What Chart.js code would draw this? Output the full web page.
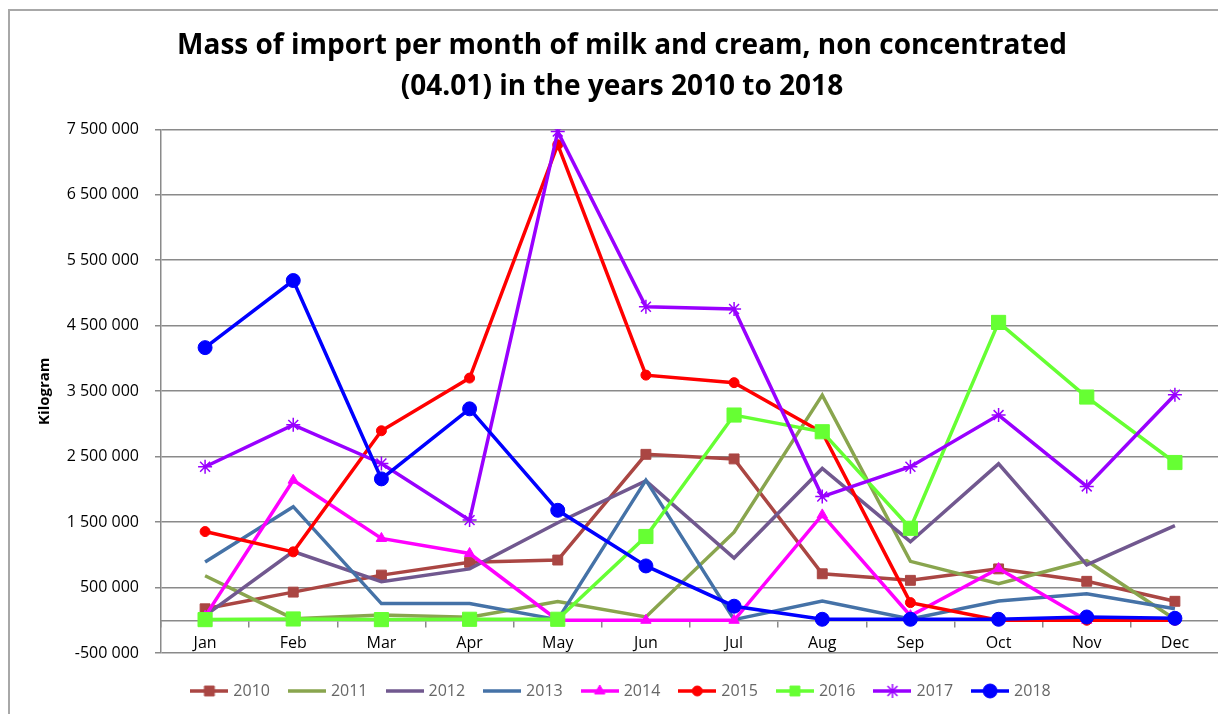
<!DOCTYPE html>
<html>
<head>
<meta charset="utf-8">
<script src="https://cdn.jsdelivr.net/npm/chart.js@4"></script>
<style>
	html, body { margin: 0; padding: 0; background: #fff; overflow: hidden; }
	#frame { position: absolute; left: 8px; top: 9px; border-left: 2px solid #a8a8a8; border-top: 2px solid #a8a8a8; }
	#chart { display: block; }
</style>
</head>
<body>
<div id="frame"><canvas id="chart" width="1226" height="710"></canvas></div>
<script>
// months on the x axis
var months = ['Jan','Feb','Mar','Apr','May','Jun','Jul','Aug','Sep','Oct','Nov','Dec'];

// kilogram per month
var y2010 = [175000, 430000, 690000, 885000, 920000, 2535000, 2465000, 710000, 610000, 785000, 595000, 290000];
var y2011 = [680000, 25000, 80000, 45000, 285000, 50000, 1345000, 3440000, 900000, 560000, 910000, 15000];
var y2012 = [70000, 1050000, 590000, 785000, 1490000, 2130000, 950000, 2320000, 1200000, 2390000, 845000, 1445000];
var y2013 = [890000, 1735000, 255000, 255000, 10000, 2140000, 10000, 295000, 20000, 295000, 405000, 175000];
var y2014 = [60000, 2140000, 1250000, 1020000, 0, 0, 0, 1610000, 70000, 790000, 0, 0];
var y2015 = [1355000, 1045000, 2895000, 3700000, 7265000, 3745000, 3630000, 2870000, 270000, 0, 0, 0];
var y2016 = [10000, 20000, 10000, 15000, 15000, 1280000, 3135000, 2880000, 1405000, 4550000, 3410000, 2410000];
var y2017 = [2345000, 2985000, 2395000, 1530000, 7465000, 4790000, 4755000, 1890000, 2345000, 3135000, 2045000, 3445000];
var y2018 = [4165000, 5190000, 2160000, 3230000, 1680000, 830000, 215000, 15000, 15000, 15000, 50000, 30000];

var years = ['2010','2011','2012','2013','2014','2015','2016','2017','2018'];
var values = [y2010, y2011, y2012, y2013, y2014, y2015, y2016, y2017, y2018];

// y ticks: -500 000 .. 7 500 000
var yMin = -500000, yMax = 7500000, yStep = 1000000;

var styles = [
	{ color: '#AA4643', marker: 'rect',     radius: 7 },
	{ color: '#89A54E', marker: false,      radius: 0 },
	{ color: '#71588F', marker: false,      radius: 0 },
	{ color: '#4572A7', marker: false,      radius: 0 },
	{ color: '#FF00FF', marker: 'triangle', radius: 6 },
	{ color: '#FF0000', marker: 'circle',   radius: 5 },
	{ color: '#66FF33', marker: 'rect',     radius: 10 },
	{ color: '#9900FF', marker: 'star',     radius: 7 },
	{ color: '#0000FF', marker: 'circle',   radius: 7 }
];

function fmt(v) {
	var s = String(Math.abs(v)).replace(/\B(?=(\d{3})+(?!\d))/g, ' ');
	return (v < 0 ? '-' : '') + s;
}

// small picture of line + marker for the legend
function legendSample(st) {
	var c = document.createElement('canvas');
	c.width = 38; c.height = 16;
	var ctx = c.getContext('2d');
	ctx.strokeStyle = st.color;
	ctx.lineWidth = 3.5;
	ctx.beginPath();
	ctx.moveTo(0, 8); ctx.lineTo(38, 8);
	ctx.stroke();
	if (st.marker) {
		ctx.fillStyle = st.color;
		ctx.lineWidth = st.marker == 'star' ? 1.5 : 1;
		Chart.helpers.drawPoint(ctx, { pointStyle: st.marker, radius: Math.min(st.radius, 7), rotation: 0, borderWidth: ctx.lineWidth }, 19, 8);
	}
	return c;
}

var datasets = years.map(function (y, i) {
	var st = styles[i];
	return {
		label: y,
		data: values[i],
		borderColor: st.color,
		backgroundColor: st.color,
		borderWidth: 3.5,
		tension: 0,
		pointStyle: st.marker || 'circle',
		pointRadius: st.radius,
		pointHoverRadius: st.radius,
		pointBackgroundColor: st.color,
		pointBorderColor: st.color,
		pointBorderWidth: st.marker == 'star' ? 1.5 : 1,
		order: years.length - i
	};
});

var gridColor = '#8a8a8a';

const ctxChart = document.getElementById('chart').getContext('2d');
const chart = new Chart(ctxChart, {
	type: 'line',
	data: { labels: months, datasets: datasets },
	options: {
		responsive: false,
		animation: false,
		layout: { padding: { left: 15, right: 17, top: 0, bottom: 12 } },
		scales: {
			y: {
				min: yMin,
				max: yMax,
				ticks: {
					stepSize: yStep,
					padding: 16,
					color: '#000',
					font: { family: 'Open Sans', size: 16 },
					callback: function (v) { return fmt(v); }
				},
				grid: { color: gridColor, lineWidth: 1.5, tickLength: 6 },
				border: { color: gridColor, width: 1.5 },
				title: {
					display: true,
					text: 'Kilogram',
					color: '#000',
					font: { family: 'Open Sans', size: 15, weight: 'bold' },
					padding: { top: 11, bottom: 0 }
				},
				afterFit: function (scale) { scale.width = 136; }
			},
			x: {
				position: { y: 0 },
				offset: true,
				ticks: {
					padding: 8,
					color: '#000',
					font: { family: 'Open Sans', size: 16 },
					maxRotation: 0
				},
				grid: { drawOnChartArea: false, offset: true, color: gridColor, lineWidth: 1.5, tickLength: 6 },
				border: { color: gridColor, width: 1.5 }
			}
		},
		plugins: {
			title: {
				display: true,
				text: ['Mass of import per month of milk and cream, non concentrated', '(04.01) in the years 2010 to 2018'],
				color: '#000',
				font: { family: 'Open Sans', size: 28, weight: 'bold', lineHeight: 1.47 },
				padding: { top: 14.5, bottom: 21.5 }
			},
			legend: {
				position: 'bottom',
				title: { display: true, text: ' ', padding: 0, font: { size: 7.5 } },
				labels: {
					usePointStyle: true,
					pointStyleWidth: 32,
					padding: 21,
					color: '#000',
					font: { family: 'Open Sans', size: 16 },
					generateLabels: function (ch) {
						return ch.data.datasets.map(function (ds, i) {
							return {
								text: ds.label,
								pointStyle: legendSample(styles[i]),
								fillStyle: ds.borderColor,
								strokeStyle: ds.borderColor,
								lineWidth: 0,
								hidden: false,
								datasetIndex: i
							};
						});
					}
				}
			},
			tooltip: { enabled: false }
		}
	}
});
</script>
</body>
</html>
